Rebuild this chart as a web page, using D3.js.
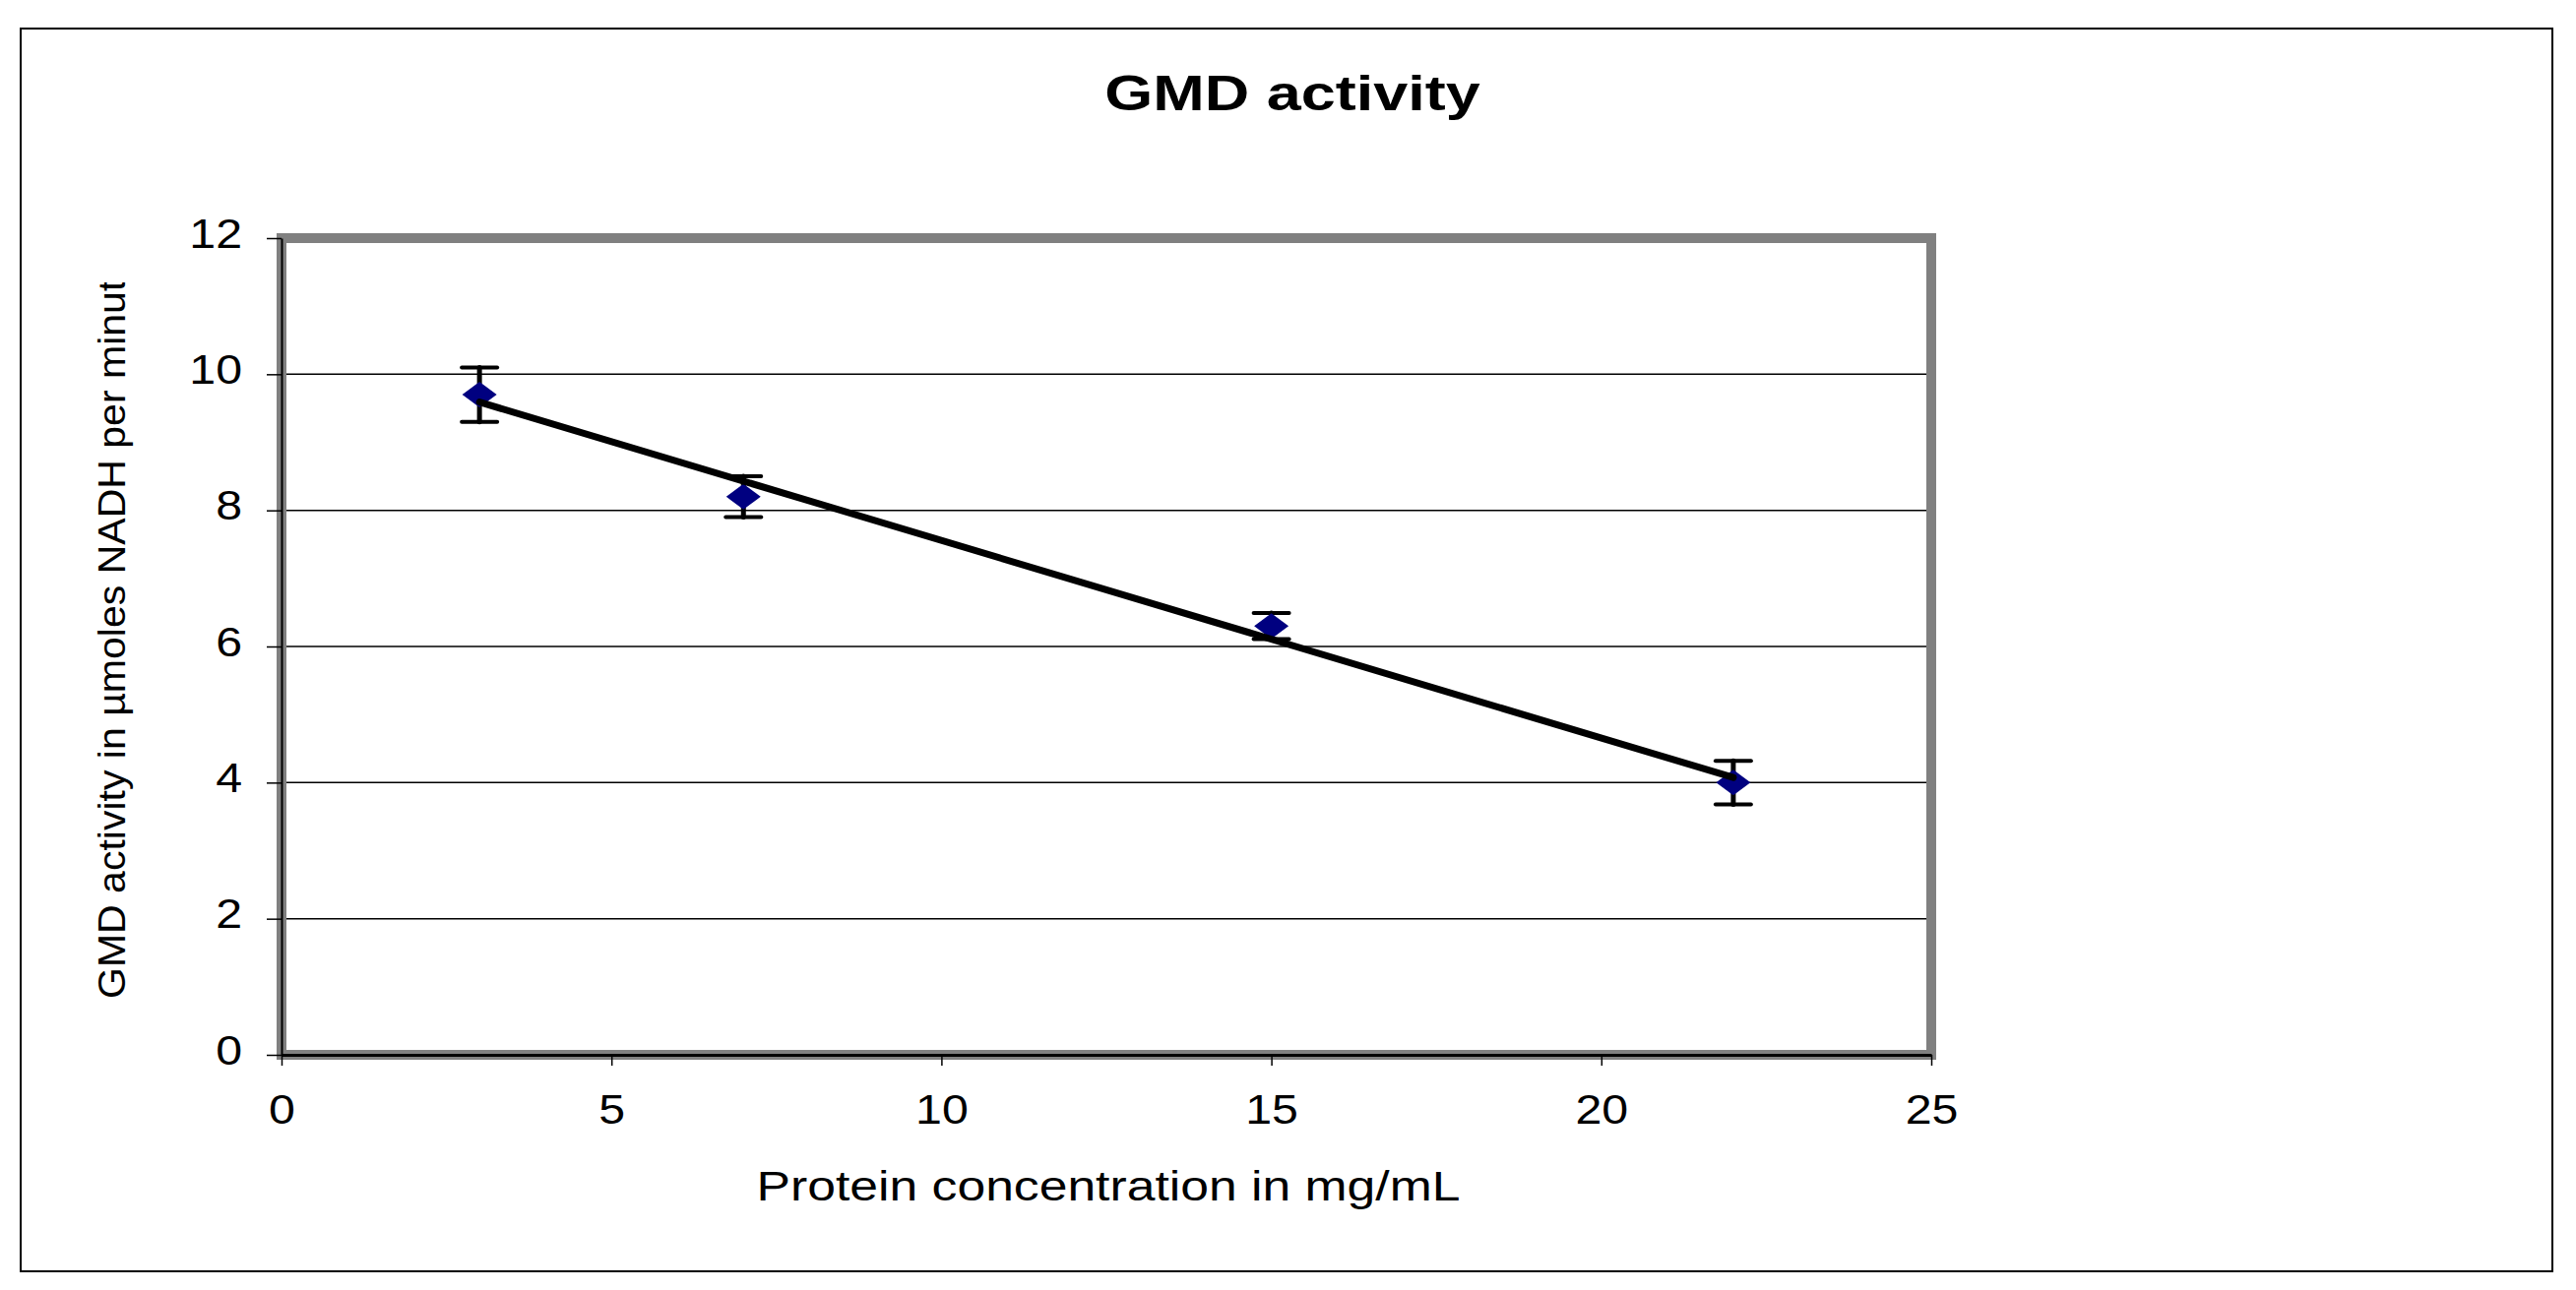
<!DOCTYPE html>
<html>
<head>
<meta charset="utf-8">
<script src="https://cdn.jsdelivr.net/npm/d3@7"></script>
<style>
  body { margin: 0; background: #fff; }
  text { font-family: "Liberation Sans", Arial, sans-serif; fill: #000; }
</style>
</head>
<body>
<svg id="chart" width="2617" height="1311"></svg>
<script>
// data
var protein = [3, 7, 15, 22];
var activity = [9.7, 8.2, 6.3, 4.0];
var errors = [0.4, 0.3, 0.19, 0.32];
var xTicks = [0, 5, 10, 15, 20, 25];
var yTicks = [0, 2, 4, 6, 8, 10, 12];

var titleText = "GMD activity";
var xTitle = "Protein concentration in mg/mL";
var yTitle = "GMD activity in \u00b5moles NADH per minute";

var W = 2617, H = 1311;
var plot = { left: 286, right: 1962, top: 242, bottom: 1072 };

var svg = d3.select("#chart");

/* outer frame */
svg.append("rect")
  .attr("x", 21).attr("y", 29)
  .attr("width", 2593 - 21).attr("height", 1292 - 29)
  .attr("fill", "#fff").attr("stroke", "#000").attr("stroke-width", 2);

/* scales */
var x = d3.scaleLinear().domain([0, 25]).range([plot.left, plot.right]);
var y = d3.scaleLinear().domain([0, 12]).range([plot.bottom, plot.top]);

/* gridlines */
svg.append("g").selectAll("line")
  .data(yTicks.filter(d => d > 0 && d < 12)).enter()
  .append("line")
  .attr("x1", plot.left).attr("x2", plot.right)
  .attr("y1", d => y(d)).attr("y2", d => y(d))
  .attr("stroke", "#000").attr("stroke-width", 1.5);

/* grey plot border */
svg.append("rect")
  .attr("x", plot.left).attr("y", plot.top)
  .attr("width", plot.right - plot.left).attr("height", plot.bottom - plot.top)
  .attr("fill", "none").attr("stroke", "#808080").attr("stroke-width", 10);

/* axes */
var yAxis = d3.axisLeft(y).tickValues(yTicks).tickSize(15).tickPadding(25).tickSizeOuter(0);
var xAxis = d3.axisBottom(x).tickValues(xTicks).tickSize(11).tickPadding(29).tickSizeOuter(0);

var gy = svg.append("g")
  .attr("transform", `translate(${plot.left},0)`)
  .call(yAxis);
gy.select(".domain").attr("stroke", "#000").attr("stroke-width", 2);
gy.selectAll(".tick line").attr("stroke", "#000").attr("stroke-width", 1.5);
gy.selectAll(".tick text")
  .attr("font-size", 42)
  .attr("dy", "0.22em")
  .attr("x", 0)
  .attr("transform", "translate(-40,0) scale(1.15,1)");

var gx = svg.append("g")
  .attr("transform", `translate(0,${plot.bottom})`)
  .call(xAxis);
gx.select(".domain").attr("stroke", "#000").attr("stroke-width", 3);
gx.selectAll(".tick line").attr("stroke", "#000").attr("stroke-width", 1.5);
gx.selectAll(".tick text")
  .attr("font-size", 42)
  .attr("transform", "scale(1.15,1)");

gy.attr("font-family", null);
gx.attr("font-family", null);

/* linear trend line (least squares fit of the points) */
var mx = d3.mean(protein), my = d3.mean(activity);
var sxy = d3.sum(protein, (d, i) => (d - mx) * (activity[i] - my));
var sxx = d3.sum(protein, d => (d - mx) * (d - mx));
var slope = sxy / sxx, icpt = my - slope * mx;
var xr = d3.extent(protein);

/* error bars */
var pts = protein.map((d, i) => ({ x: d, y: activity[i], e: errors[i] }));
var eb = svg.append("g").attr("stroke", "#000").attr("stroke-width", 5).attr("stroke-linecap", "round");
pts.forEach(function(p) {
  eb.append("line")
    .attr("x1", x(p.x)).attr("x2", x(p.x))
    .attr("y1", y(p.y - p.e)).attr("y2", y(p.y + p.e));
  [p.y - p.e, p.y + p.e].forEach(function(v) {
    eb.append("line")
      .attr("x1", x(p.x) - 18).attr("x2", x(p.x) + 18)
      .attr("y1", y(v)).attr("y2", y(v))
      .attr("stroke-width", 4);
  });
});

/* diamonds */
svg.append("g").selectAll("path")
  .data(pts).enter()
  .append("path")
  .attr("d", "M0,-13L17.5,0L0,13L-17.5,0Z")
  .attr("transform", d => `translate(${x(d.x)},${y(d.y)})`)
  .attr("fill", "#000080");

svg.append("line")
  .attr("x1", x(xr[0])).attr("y1", y(icpt + slope * xr[0]))
  .attr("x2", x(xr[1])).attr("y2", y(icpt + slope * xr[1]))
  .attr("stroke", "#000").attr("stroke-width", 7).attr("stroke-linecap", "round");

/* title */
svg.append("text")
  .attr("transform", "translate(1313,112) scale(1.26,1)")
  .attr("text-anchor", "middle")
  .attr("font-size", 50)
  .attr("font-weight", "bold")
  .text(titleText);

/* x title */
svg.append("text")
  .attr("transform", "translate(1126,1220) scale(1.23,1)")
  .attr("text-anchor", "middle")
  .attr("font-size", 42)
  .text(xTitle);

/* y title, clipped at the top like the original */
svg.append("clipPath").attr("id", "yclip")
  .append("rect").attr("x", 0).attr("y", 287).attr("width", 260).attr("height", 900);

svg.append("g").attr("clip-path", "url(#yclip)")
  .append("text")
  .attr("transform", "translate(127,1015) rotate(-90) scale(1.08,1)")
  .attr("text-anchor", "start")
  .attr("font-size", 38)
  .text(yTitle);
</script>
</body>
</html>
